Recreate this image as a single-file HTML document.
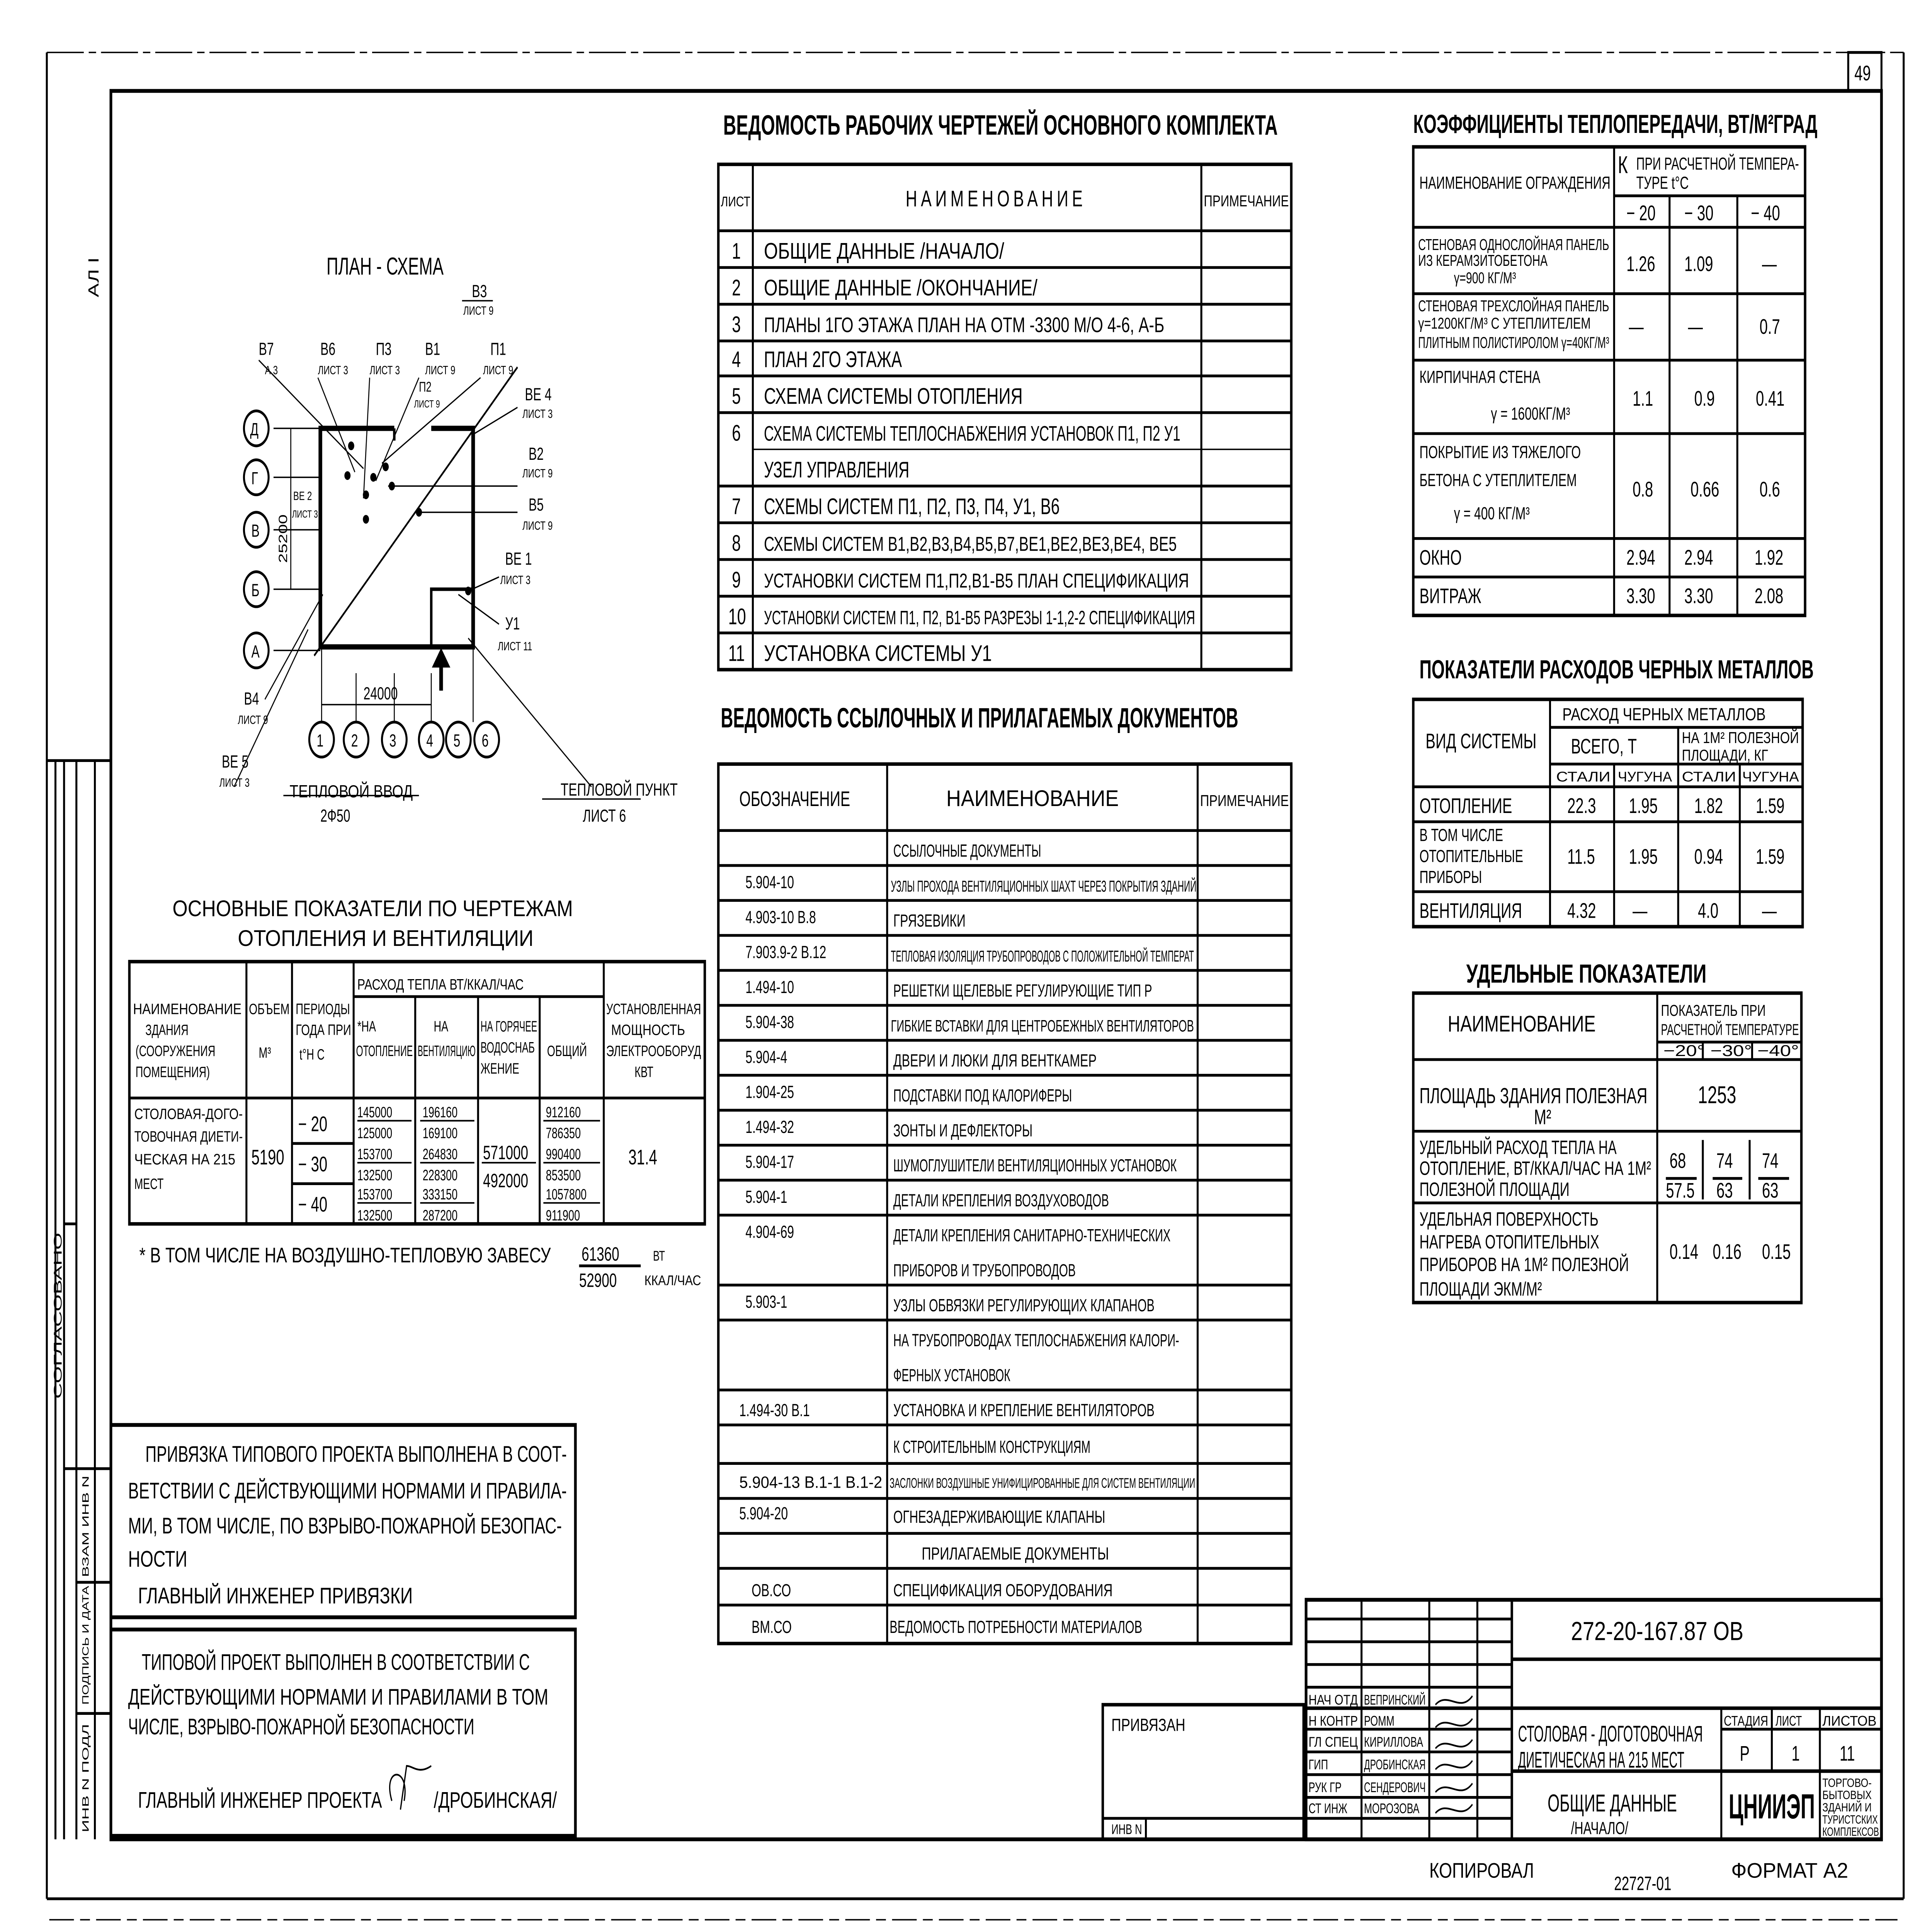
<!DOCTYPE html>
<html><head><meta charset="utf-8"><style>
html,body{margin:0;padding:0;background:#fff;overflow:hidden;width:100%;height:100%}
svg{display:block;position:fixed;left:0;top:0;width:100vw;height:100vh}
text{font-family:"Liberation Sans","DejaVu Sans Condensed",sans-serif;fill:#000}
</style></head><body>
<svg viewBox="0 0 1568 1105" preserveAspectRatio="none" xmlns="http://www.w3.org/2000/svg">
<rect width="1568" height="1105" fill="#fff"/>
<g stroke="#000" fill="none" stroke-width="1.6">
<line x1="38" y1="30" x2="38" y2="1086"/>
<line x1="38" y1="1086" x2="1545" y2="1086"/>
<line x1="1545" y1="30" x2="1545" y2="1086"/>
<line x1="38" y1="30" x2="1545" y2="30" stroke-width="0.8" stroke-dasharray="30 4 6 4"/>
<rect x="90" y="52" width="1437" height="1000" stroke-width="2.2"/>
<rect x="1500" y="30" width="27" height="22"/>
<line x1="38" y1="435" x2="90" y2="435"/>
<line x1="45" y1="435" x2="45" y2="1052"/>
<line x1="52" y1="435" x2="52" y2="1052"/>
<line x1="62" y1="435" x2="62" y2="1052"/>
<line x1="77" y1="435" x2="77" y2="1052"/>
<line x1="62" y1="840" x2="90" y2="840"/>
<line x1="62" y1="905" x2="90" y2="905"/>
<line x1="62" y1="980" x2="90" y2="980"/>
<line x1="52" y1="700" x2="62" y2="700"/>
<line x1="52" y1="840" x2="62" y2="840"/>

<rect x="583" y="94" width="465" height="289" stroke-width="2"/>
<line x1="611" y1="94" x2="611" y2="383"/>
<line x1="975" y1="94" x2="975" y2="383"/>
<line x1="583" y1="132" x2="1048" y2="132"/>
<line x1="583" y1="153" x2="1048" y2="153"/>
<line x1="583" y1="174" x2="1048" y2="174"/>
<line x1="583" y1="195" x2="1048" y2="195"/>
<line x1="583" y1="215" x2="1048" y2="215"/>
<line x1="583" y1="236" x2="1048" y2="236"/>
<line x1="611" y1="257" x2="1048" y2="257" stroke-width="0.8"/>
<line x1="583" y1="278" x2="1048" y2="278"/>
<line x1="583" y1="299" x2="1048" y2="299"/>
<line x1="583" y1="320" x2="1048" y2="320"/>
<line x1="583" y1="341" x2="1048" y2="341"/>
<line x1="583" y1="362" x2="1048" y2="362"/>

<rect x="583" y="437" width="465" height="503" stroke-width="2"/>
<line x1="720" y1="437" x2="720" y2="940"/>
<line x1="972" y1="437" x2="972" y2="940"/>
<line x1="583" y1="475" x2="1048" y2="475"/>
<line x1="583" y1="495" x2="1048" y2="495"/>
<line x1="583" y1="515" x2="1048" y2="515"/>
<line x1="583" y1="535" x2="1048" y2="535"/>
<line x1="583" y1="555" x2="1048" y2="555"/>
<line x1="583" y1="575" x2="1048" y2="575"/>
<line x1="583" y1="595" x2="1048" y2="595"/>
<line x1="583" y1="615" x2="1048" y2="615"/>
<line x1="583" y1="635" x2="1048" y2="635"/>
<line x1="583" y1="655" x2="1048" y2="655"/>
<line x1="583" y1="675" x2="1048" y2="675"/>
<line x1="583" y1="695" x2="1048" y2="695"/>
<line x1="583" y1="735" x2="1048" y2="735"/>
<line x1="583" y1="755" x2="1048" y2="755"/>
<line x1="583" y1="795" x2="1048" y2="795"/>
<line x1="583" y1="815" x2="1048" y2="815"/>
<line x1="583" y1="837" x2="1048" y2="837"/>
<line x1="583" y1="857" x2="1048" y2="857"/>
<line x1="583" y1="877" x2="1048" y2="877"/>
<line x1="583" y1="897" x2="1048" y2="897"/>
<line x1="583" y1="918" x2="1048" y2="918"/>

<rect x="1147" y="84" width="318" height="268" stroke-width="2"/>
<line x1="1310" y1="84" x2="1310" y2="352"/>
<line x1="1355" y1="112" x2="1355" y2="352"/>
<line x1="1410" y1="112" x2="1410" y2="352"/>
<line x1="1310" y1="112" x2="1465" y2="112"/>
<line x1="1147" y1="130" x2="1465" y2="130"/>
<line x1="1147" y1="168" x2="1465" y2="168"/>
<line x1="1147" y1="206" x2="1465" y2="206"/>
<line x1="1147" y1="248" x2="1465" y2="248"/>
<line x1="1147" y1="308" x2="1465" y2="308"/>
<line x1="1147" y1="330" x2="1465" y2="330"/>

<rect x="1147" y="400" width="316" height="130" stroke-width="2"/>
<line x1="1258" y1="400" x2="1258" y2="530"/>
<line x1="1258" y1="416" x2="1463" y2="416"/>
<line x1="1362" y1="416" x2="1362" y2="530"/>
<line x1="1258" y1="437" x2="1463" y2="437"/>
<line x1="1310" y1="437" x2="1310" y2="530"/>
<line x1="1412" y1="437" x2="1412" y2="530"/>
<line x1="1147" y1="450" x2="1463" y2="450"/>
<line x1="1147" y1="470" x2="1463" y2="470"/>
<line x1="1147" y1="510" x2="1463" y2="510"/>

<rect x="1147" y="568" width="315" height="177" stroke-width="2"/>
<line x1="1345" y1="568" x2="1345" y2="745"/>
<line x1="1345" y1="596" x2="1462" y2="596"/>
<line x1="1147" y1="606" x2="1462" y2="606"/>
<line x1="1147" y1="647" x2="1462" y2="647"/>
<line x1="1147" y1="688" x2="1462" y2="688"/>
<line x1="1382" y1="596" x2="1382" y2="606"/>
<line x1="1422" y1="596" x2="1422" y2="606"/>
<line x1="1352" y1="674" x2="1377" y2="674"/><line x1="1390" y1="674" x2="1414" y2="674"/><line x1="1427" y1="674" x2="1452" y2="674"/>
<line x1="1382" y1="652" x2="1382" y2="686"/><line x1="1420" y1="652" x2="1420" y2="686"/>

<rect x="105" y="550" width="467" height="150" stroke-width="2"/>
<line x1="200" y1="550" x2="200" y2="700"/>
<line x1="237" y1="550" x2="237" y2="700"/>
<line x1="287" y1="550" x2="287" y2="700"/>
<line x1="337" y1="570" x2="337" y2="700"/>
<line x1="388" y1="570" x2="388" y2="700"/>
<line x1="438" y1="570" x2="438" y2="700"/>
<line x1="490" y1="550" x2="490" y2="700"/>
<line x1="287" y1="570" x2="490" y2="570"/>
<line x1="105" y1="628" x2="572" y2="628"/>
<line x1="237" y1="654" x2="287" y2="654"/>
<line x1="237" y1="677" x2="287" y2="677"/>
<line x1="290" y1="641" x2="334" y2="641" stroke-width="0.9"/><line x1="341" y1="641" x2="385" y2="641" stroke-width="0.9"/><line x1="441" y1="641" x2="487" y2="641" stroke-width="0.9"/>
<line x1="290" y1="665" x2="334" y2="665" stroke-width="0.9"/><line x1="341" y1="665" x2="385" y2="665" stroke-width="0.9"/><line x1="441" y1="665" x2="487" y2="665" stroke-width="0.9"/><line x1="391" y1="665" x2="435" y2="665" stroke-width="0.9"/>
<line x1="290" y1="688" x2="334" y2="688" stroke-width="0.9"/><line x1="341" y1="688" x2="385" y2="688" stroke-width="0.9"/><line x1="441" y1="688" x2="487" y2="688" stroke-width="0.9"/>
<line x1="470" y1="724" x2="520" y2="724"/>

<rect x="90" y="815" width="377" height="110" stroke-width="2.2"/>
<rect x="90" y="932" width="377" height="118" stroke-width="2.2"/>

<rect x="895" y="975" width="163" height="77" stroke-width="2"/>
<line x1="895" y1="1040" x2="1058" y2="1040"/>
<line x1="930" y1="1040" x2="930" y2="1052"/>

<rect x="1060" y="915" width="467" height="137" stroke-width="2.2"/>
<line x1="1105" y1="915" x2="1105" y2="1052"/>
<line x1="1160" y1="915" x2="1160" y2="1052"/>
<line x1="1199" y1="915" x2="1199" y2="1052"/>
<line x1="1227" y1="915" x2="1227" y2="1052" stroke-width="2"/>
<line x1="1060" y1="926" x2="1227" y2="926"/>
<line x1="1060" y1="939" x2="1227" y2="939"/>
<line x1="1060" y1="952" x2="1227" y2="952"/>
<line x1="1060" y1="965" x2="1227" y2="965"/>
<line x1="1060" y1="977" x2="1527" y2="977" stroke-width="2"/>
<line x1="1060" y1="989" x2="1227" y2="989"/>
<line x1="1060" y1="1002" x2="1227" y2="1002"/>
<line x1="1060" y1="1015" x2="1227" y2="1015"/>
<line x1="1060" y1="1028" x2="1227" y2="1028"/>
<line x1="1060" y1="1040" x2="1227" y2="1040"/>
<line x1="1227" y1="949" x2="1527" y2="949" stroke-width="2"/>
<line x1="1227" y1="1013" x2="1527" y2="1013" stroke-width="2"/>
<line x1="1397" y1="977" x2="1397" y2="1052"/>
<line x1="1438" y1="977" x2="1438" y2="1013"/>
<line x1="1477" y1="977" x2="1477" y2="1052"/>
<line x1="1397" y1="989" x2="1527" y2="989"/>

<polyline points="320,245 260,245 260,370 384,370 384,245 350,245" stroke-width="3"/>
<line x1="320" y1="245" x2="320" y2="252" stroke-width="2"/>
<rect x="350" y="337" width="34" height="33" stroke-width="2"/>
<line x1="222" y1="245" x2="260" y2="245" stroke-width="0.8"/>
<line x1="222" y1="273" x2="260" y2="273" stroke-width="0.8"/>
<line x1="222" y1="303" x2="260" y2="303" stroke-width="0.8"/>
<line x1="222" y1="337" x2="260" y2="337" stroke-width="0.8"/>
<line x1="222" y1="372" x2="260" y2="372" stroke-width="0.8"/>
<circle cx="208" cy="245" r="10"/><circle cx="208" cy="273" r="10"/><circle cx="208" cy="303" r="10"/><circle cx="208" cy="337" r="10"/><circle cx="208" cy="372" r="10"/>
<circle cx="261" cy="423" r="10"/><circle cx="289" cy="423" r="10"/><circle cx="320" cy="423" r="10"/><circle cx="350" cy="423" r="10"/><circle cx="372" cy="423" r="10"/><circle cx="395" cy="423" r="10"/>
<line x1="261" y1="370" x2="261" y2="413" stroke-width="0.8"/>
<line x1="289" y1="385" x2="289" y2="413" stroke-width="0.8"/>
<line x1="320" y1="385" x2="320" y2="413" stroke-width="0.8"/>
<line x1="350" y1="385" x2="350" y2="413" stroke-width="0.8"/>
<line x1="384" y1="370" x2="384" y2="413" stroke-width="0.8"/>
<line x1="261" y1="403" x2="350" y2="403" stroke-width="0.8"/>
<line x1="236" y1="245" x2="236" y2="337" stroke-width="0.8"/>
<line x1="358" y1="395" x2="358" y2="380" stroke-width="3"/>
<polygon points="352,381 364,381 358,372" fill="#000"/>
<line x1="255" y1="375" x2="420" y2="210" stroke-width="1.2"/>
<line x1="215" y1="400" x2="262" y2="340" stroke-width="0.8"/>
<line x1="210" y1="206" x2="295" y2="268" stroke-width="0.8"/>
<line x1="258" y1="216" x2="288" y2="270" stroke-width="0.8"/>
<line x1="300" y1="216" x2="295" y2="285" stroke-width="0.8"/>
<line x1="340" y1="216" x2="305" y2="275" stroke-width="0.8"/>
<line x1="390" y1="216" x2="310" y2="265" stroke-width="0.8"/>
<line x1="420" y1="233" x2="385" y2="248" stroke-width="0.8"/>
<line x1="420" y1="278" x2="315" y2="278" stroke-width="0.8"/>
<line x1="420" y1="293" x2="340" y2="293" stroke-width="0.8"/>
<line x1="405" y1="330" x2="380" y2="338" stroke-width="0.8"/>
<line x1="405" y1="357" x2="372" y2="340" stroke-width="0.8"/>
<line x1="190" y1="450" x2="250" y2="360" stroke-width="0.8"/>
<line x1="480" y1="450" x2="380" y2="365" stroke-width="0.8"/>
<line x1="230" y1="455" x2="340" y2="455" stroke-width="0.8"/>
<line x1="440" y1="457" x2="520" y2="457" stroke-width="0.8"/>
<line x1="375" y1="172" x2="400" y2="172" stroke-width="0.8"/>
</g>
<g fill="#000">
<circle cx="285" cy="255" r="2.5"/><circle cx="282" cy="272" r="2.5"/><circle cx="297" cy="283" r="2.5"/><circle cx="303" cy="273" r="2.5"/><circle cx="313" cy="267" r="2.5"/><circle cx="318" cy="278" r="2.5"/><circle cx="340" cy="293" r="2.5"/><circle cx="297" cy="297" r="2.5"/><circle cx="380" cy="338" r="2.5"/>
</g>

<g font-size="13">
<text x="587" y="77" font-size="16" font-weight="bold" textLength="450" lengthAdjust="spacingAndGlyphs">ВЕДОМОСТЬ РАБОЧИХ ЧЕРТЕЖЕЙ  ОСНОВНОГО КОМПЛЕКТА</text>
<text x="585" y="118" font-size="8" textLength="24" lengthAdjust="spacingAndGlyphs">ЛИСТ</text>
<text x="735" y="118" letter-spacing="3">НАИМЕНОВАНИЕ</text>
<text x="977" y="118" font-size="9" textLength="69" lengthAdjust="spacingAndGlyphs">ПРИМЕЧАНИЕ</text>
<text x="594" y="148">1</text><text x="620" y="148" textLength="195" lengthAdjust="spacingAndGlyphs">ОБЩИЕ ДАННЫЕ  /НАЧАЛО/</text>
<text x="594" y="169">2</text><text x="620" y="169" textLength="222" lengthAdjust="spacingAndGlyphs">ОБЩИЕ ДАННЫЕ  /ОКОНЧАНИЕ/</text>
<text x="594" y="190">3</text><text x="620" y="190" font-size="12" textLength="325" lengthAdjust="spacingAndGlyphs">ПЛАНЫ 1ГО ЭТАЖА ПЛАН НА ОТМ -3300 М/О 4-6, А-Б</text>
<text x="594" y="210">4</text><text x="620" y="210" textLength="112" lengthAdjust="spacingAndGlyphs">ПЛАН 2ГО ЭТАЖА</text>
<text x="594" y="231">5</text><text x="620" y="231" textLength="210" lengthAdjust="spacingAndGlyphs">СХЕМА СИСТЕМЫ ОТОПЛЕНИЯ</text>
<text x="594" y="252">6</text><text x="620" y="252" font-size="12" textLength="338" lengthAdjust="spacingAndGlyphs">СХЕМА СИСТЕМЫ ТЕПЛОСНАБЖЕНИЯ УСТАНОВОК П1, П2 У1</text>
<text x="620" y="273" textLength="118" lengthAdjust="spacingAndGlyphs">УЗЕЛ УПРАВЛЕНИЯ</text>
<text x="594" y="294">7</text><text x="620" y="294" textLength="240" lengthAdjust="spacingAndGlyphs">СХЕМЫ СИСТЕМ П1, П2, П3, П4, У1, В6</text>
<text x="594" y="315">8</text><text x="620" y="315" font-size="11.5" textLength="335" lengthAdjust="spacingAndGlyphs">СХЕМЫ СИСТЕМ В1,В2,В3,В4,В5,В7,ВЕ1,ВЕ2,ВЕ3,ВЕ4, ВЕ5</text>
<text x="594" y="336">9</text><text x="620" y="336" font-size="11.5" textLength="345" lengthAdjust="spacingAndGlyphs">УСТАНОВКИ СИСТЕМ П1,П2,В1-В5 ПЛАН СПЕЦИФИКАЦИЯ</text>
<text x="591" y="357">10</text><text x="620" y="357" font-size="11" textLength="350" lengthAdjust="spacingAndGlyphs">УСТАНОВКИ СИСТЕМ П1, П2, В1-В5 РАЗРЕЗЫ 1-1,2-2 СПЕЦИФИКАЦИЯ</text>
<text x="591" y="378">11</text><text x="620" y="378" textLength="185" lengthAdjust="spacingAndGlyphs">УСТАНОВКА  СИСТЕМЫ  У1</text>

<text x="585" y="416" font-size="16" font-weight="bold" textLength="420" lengthAdjust="spacingAndGlyphs">ВЕДОМОСТЬ ССЫЛОЧНЫХ И ПРИЛАГАЕМЫХ ДОКУМЕНТОВ</text>
<text x="600" y="461" font-size="12" textLength="90" lengthAdjust="spacingAndGlyphs">ОБОЗНАЧЕНИЕ</text>
<text x="768" y="461" textLength="140" lengthAdjust="spacingAndGlyphs">НАИМЕНОВАНИЕ</text>
<text x="974" y="461" font-size="9" textLength="72" lengthAdjust="spacingAndGlyphs">ПРИМЕЧАНИЕ</text>
<g font-size="10">
<text x="725" y="490" textLength="120" lengthAdjust="spacingAndGlyphs">ССЫЛОЧНЫЕ ДОКУМЕНТЫ</text>
<text x="605" y="508">5.904-10</text><text x="723" y="510" font-size="9" textLength="248" lengthAdjust="spacingAndGlyphs">УЗЛЫ ПРОХОДА ВЕНТИЛЯЦИОННЫХ ШАХТ ЧЕРЕЗ ПОКРЫТИЯ ЗДАНИЙ</text>
<text x="605" y="528">4.903-10 В.8</text><text x="725" y="530">ГРЯЗЕВИКИ</text>
<text x="605" y="548">7.903.9-2   В.12</text><text x="723" y="550" font-size="9" textLength="246" lengthAdjust="spacingAndGlyphs">ТЕПЛОВАЯ ИЗОЛЯЦИЯ ТРУБОПРОВОДОВ С ПОЛОЖИТЕЛЬНОЙ ТЕМПЕРАТ</text>
<text x="605" y="568">1.494-10</text><text x="725" y="570" textLength="210" lengthAdjust="spacingAndGlyphs">РЕШЕТКИ ЩЕЛЕВЫЕ РЕГУЛИРУЮЩИЕ ТИП Р</text>
<text x="605" y="588">5.904-38</text><text x="723" y="590" font-size="9.5" textLength="246" lengthAdjust="spacingAndGlyphs">ГИБКИЕ ВСТАВКИ ДЛЯ ЦЕНТРОБЕЖНЫХ ВЕНТИЛЯТОРОВ</text>
<text x="605" y="608">5.904-4</text><text x="725" y="610" textLength="165" lengthAdjust="spacingAndGlyphs">ДВЕРИ И ЛЮКИ ДЛЯ ВЕНТКАМЕР</text>
<text x="605" y="628">1.904-25</text><text x="725" y="630" textLength="145" lengthAdjust="spacingAndGlyphs">ПОДСТАВКИ ПОД КАЛОРИФЕРЫ</text>
<text x="605" y="648">1.494-32</text><text x="725" y="650" textLength="113" lengthAdjust="spacingAndGlyphs">ЗОНТЫ И ДЕФЛЕКТОРЫ</text>
<text x="605" y="668">5.904-17</text><text x="725" y="670" textLength="230" lengthAdjust="spacingAndGlyphs">ШУМОГЛУШИТЕЛИ ВЕНТИЛЯЦИОННЫХ УСТАНОВОК</text>
<text x="605" y="688">5.904-1</text><text x="725" y="690" textLength="175" lengthAdjust="spacingAndGlyphs">ДЕТАЛИ КРЕПЛЕНИЯ ВОЗДУХОВОДОВ</text>
<text x="605" y="708">4.904-69</text><text x="725" y="710" textLength="225" lengthAdjust="spacingAndGlyphs">ДЕТАЛИ КРЕПЛЕНИЯ САНИТАРНО-ТЕХНИЧЕСКИХ</text>
<text x="725" y="730" textLength="148" lengthAdjust="spacingAndGlyphs">ПРИБОРОВ И ТРУБОПРОВОДОВ</text>
<text x="605" y="748">5.903-1</text><text x="725" y="750" textLength="212" lengthAdjust="spacingAndGlyphs">УЗЛЫ ОБВЯЗКИ РЕГУЛИРУЮЩИХ КЛАПАНОВ</text>
<text x="725" y="770" textLength="232" lengthAdjust="spacingAndGlyphs">НА ТРУБОПРОВОДАХ ТЕПЛОСНАБЖЕНИЯ КАЛОРИ-</text>
<text x="725" y="790" textLength="95" lengthAdjust="spacingAndGlyphs">ФЕРНЫХ УСТАНОВОК</text>
<text x="600" y="810">1.494-30  В.1</text><text x="725" y="810" textLength="212" lengthAdjust="spacingAndGlyphs">УСТАНОВКА И КРЕПЛЕНИЕ ВЕНТИЛЯТОРОВ</text>
<text x="725" y="831" textLength="160" lengthAdjust="spacingAndGlyphs">К СТРОИТЕЛЬНЫМ КОНСТРУКЦИЯМ</text>
<text x="600" y="851" font-size="9.5" textLength="116" lengthAdjust="spacingAndGlyphs">5.904-13 В.1-1 В.1-2</text><text x="722" y="851" font-size="8" textLength="248" lengthAdjust="spacingAndGlyphs">ЗАСЛОНКИ ВОЗДУШНЫЕ УНИФИЦИРОВАННЫЕ ДЛЯ СИСТЕМ ВЕНТИЛЯЦИИ</text>
<text x="600" y="869">5.904-20</text><text x="725" y="871" textLength="172" lengthAdjust="spacingAndGlyphs">ОГНЕЗАДЕРЖИВАЮЩИЕ КЛАПАНЫ</text>
<text x="748" y="892" textLength="152" lengthAdjust="spacingAndGlyphs">ПРИЛАГАЕМЫЕ ДОКУМЕНТЫ</text>
<text x="610" y="913">ОВ.СО</text><text x="725" y="913" textLength="178" lengthAdjust="spacingAndGlyphs">СПЕЦИФИКАЦИЯ ОБОРУДОВАНИЯ</text>
<text x="610" y="934">ВМ.СО</text><text x="722" y="934" textLength="205" lengthAdjust="spacingAndGlyphs">ВЕДОМОСТЬ ПОТРЕБНОСТИ  МАТЕРИАЛОВ</text>
</g>

<text x="1147" y="76" font-size="15" font-weight="bold" textLength="328" lengthAdjust="spacingAndGlyphs">КОЭФФИЦИЕНТЫ ТЕПЛОПЕРЕДАЧИ, ВТ/М²ГРАД</text>
<g font-size="10">
<text x="1152" y="108" textLength="155" lengthAdjust="spacingAndGlyphs">НАИМЕНОВАНИЕ ОГРАЖДЕНИЯ</text>
<text x="1313" y="99" font-size="14">К</text><text x="1328" y="97" textLength="132" lengthAdjust="spacingAndGlyphs">ПРИ РАСЧЕТНОЙ ТЕМПЕРА-</text><text x="1328" y="108">ТУРЕ t°C</text>
<text x="1320" y="126" font-size="12">− 20</text><text x="1367" y="126" font-size="12">− 30</text><text x="1421" y="126" font-size="12">− 40</text>
<text x="1151" y="143" font-size="9" textLength="155" lengthAdjust="spacingAndGlyphs">СТЕНОВАЯ ОДНОСЛОЙНАЯ ПАНЕЛЬ</text><text x="1151" y="152" font-size="9">ИЗ КЕРАМЗИТОБЕТОНА</text><text x="1180" y="162" font-size="9">γ=900 КГ/М³</text>
<text x="1320" y="155" font-size="12">1.26</text><text x="1367" y="155" font-size="12">1.09</text><text x="1430" y="155" font-size="12">—</text>
<text x="1151" y="178" font-size="9" textLength="155" lengthAdjust="spacingAndGlyphs">СТЕНОВАЯ ТРЕХСЛОЙНАЯ ПАНЕЛЬ</text><text x="1151" y="188" font-size="9" textLength="140" lengthAdjust="spacingAndGlyphs">γ=1200КГ/М³ С УТЕПЛИТЕЛЕМ</text><text x="1151" y="199" font-size="9" textLength="155" lengthAdjust="spacingAndGlyphs">ПЛИТНЫМ ПОЛИСТИРОЛОМ γ=40КГ/М³</text>
<text x="1322" y="191" font-size="12">—</text><text x="1370" y="191" font-size="12">—</text><text x="1428" y="191" font-size="12">0.7</text>
<text x="1152" y="219">КИРПИЧНАЯ СТЕНА</text><text x="1210" y="240">γ = 1600КГ/М³</text>
<text x="1325" y="232" font-size="12">1.1</text><text x="1375" y="232" font-size="12">0.9</text><text x="1425" y="232" font-size="12">0.41</text>
<text x="1152" y="262">ПОКРЫТИЕ ИЗ ТЯЖЕЛОГО</text><text x="1152" y="278">БЕТОНА С УТЕПЛИТЕЛЕМ</text><text x="1180" y="297">γ = 400 КГ/М³</text>
<text x="1325" y="284" font-size="12">0.8</text><text x="1372" y="284" font-size="12">0.66</text><text x="1428" y="284" font-size="12">0.6</text>
<text x="1152" y="323" font-size="12">ОКНО</text>
<text x="1320" y="323" font-size="12">2.94</text><text x="1367" y="323" font-size="12">2.94</text><text x="1424" y="323" font-size="12">1.92</text>
<text x="1152" y="345" font-size="12">ВИТРАЖ</text>
<text x="1320" y="345" font-size="12">3.30</text><text x="1367" y="345" font-size="12">3.30</text><text x="1424" y="345" font-size="12">2.08</text>
</g>

<text x="1152" y="388" font-size="15" font-weight="bold" textLength="320" lengthAdjust="spacingAndGlyphs">ПОКАЗАТЕЛИ РАСХОДОВ ЧЕРНЫХ МЕТАЛЛОВ</text>
<g font-size="10">
<text x="1157" y="428" font-size="12" textLength="90" lengthAdjust="spacingAndGlyphs">ВИД СИСТЕМЫ</text>
<text x="1268" y="412" textLength="165" lengthAdjust="spacingAndGlyphs">РАСХОД ЧЕРНЫХ МЕТАЛЛОВ</text>
<text x="1275" y="431" font-size="12">ВСЕГО, Т</text>
<text x="1365" y="425" font-size="9" textLength="95" lengthAdjust="spacingAndGlyphs">НА 1М² ПОЛЕЗНОЙ</text><text x="1365" y="435" font-size="9" textLength="70" lengthAdjust="spacingAndGlyphs">ПЛОЩАДИ, КГ</text>
<text x="1263" y="447" font-size="8" textLength="44" lengthAdjust="spacingAndGlyphs">СТАЛИ</text><text x="1313" y="447" font-size="8" textLength="44" lengthAdjust="spacingAndGlyphs">ЧУГУНА</text><text x="1365" y="447" font-size="8" textLength="44" lengthAdjust="spacingAndGlyphs">СТАЛИ</text><text x="1414" y="447" font-size="8" textLength="46" lengthAdjust="spacingAndGlyphs">ЧУГУНА</text>
<text x="1152" y="465" font-size="12">ОТОПЛЕНИЕ</text>
<text x="1272" y="465" font-size="12">22.3</text><text x="1322" y="465" font-size="12">1.95</text><text x="1375" y="465" font-size="12">1.82</text><text x="1425" y="465" font-size="12">1.59</text>
<text x="1152" y="481">В ТОМ ЧИСЛЕ</text><text x="1152" y="493">ОТОПИТЕЛЬНЫЕ</text><text x="1152" y="505">ПРИБОРЫ</text>
<text x="1272" y="494" font-size="12">11.5</text><text x="1322" y="494" font-size="12">1.95</text><text x="1375" y="494" font-size="12">0.94</text><text x="1425" y="494" font-size="12">1.59</text>
<text x="1152" y="525" font-size="12">ВЕНТИЛЯЦИЯ</text>
<text x="1272" y="525" font-size="12">4.32</text><text x="1325" y="525" font-size="12">—</text><text x="1378" y="525" font-size="12">4.0</text><text x="1430" y="525" font-size="12">—</text>
</g>

<text x="1190" y="562" font-size="15" font-weight="bold" textLength="195" lengthAdjust="spacingAndGlyphs">УДЕЛЬНЫЕ ПОКАЗАТЕЛИ</text>
<g font-size="11">
<text x="1175" y="590" font-size="13" textLength="120" lengthAdjust="spacingAndGlyphs">НАИМЕНОВАНИЕ</text>
<text x="1348" y="581" font-size="9" textLength="85" lengthAdjust="spacingAndGlyphs">ПОКАЗАТЕЛЬ ПРИ</text><text x="1348" y="592" font-size="9" textLength="112" lengthAdjust="spacingAndGlyphs">РАСЧЕТНОЙ ТЕМПЕРАТУРЕ</text>
<text x="1350" y="604" font-size="9" textLength="110" lengthAdjust="spacingAndGlyphs">−20°   −30°   −40°</text>
<text x="1152" y="631" font-size="12.5" textLength="185" lengthAdjust="spacingAndGlyphs">ПЛОЩАДЬ ЗДАНИЯ ПОЛЕЗНАЯ</text><text x="1245" y="643" font-size="12">М²</text>
<text x="1378" y="631" font-size="14">1253</text>
<text x="1152" y="660" textLength="160" lengthAdjust="spacingAndGlyphs">УДЕЛЬНЫЙ РАСХОД ТЕПЛА НА</text><text x="1152" y="672" textLength="188" lengthAdjust="spacingAndGlyphs">ОТОПЛЕНИЕ, ВТ/ККАЛ/ЧАС НА 1М²</text><text x="1152" y="684">ПОЛЕЗНОЙ ПЛОЩАДИ</text>
<text x="1355" y="668" font-size="12">68</text><text x="1393" y="668" font-size="12">74</text><text x="1430" y="668" font-size="12">74</text>
<text x="1352" y="685" font-size="12">57.5</text><text x="1393" y="685" font-size="12">63</text><text x="1430" y="685" font-size="12">63</text>
<text x="1152" y="701">УДЕЛЬНАЯ ПОВЕРХНОСТЬ</text><text x="1152" y="714">НАГРЕВА ОТОПИТЕЛЬНЫХ</text><text x="1152" y="727" textLength="170" lengthAdjust="spacingAndGlyphs">ПРИБОРОВ НА 1М² ПОЛЕЗНОЙ</text><text x="1152" y="741">ПЛОЩАДИ  ЭКМ/М²</text>
<text x="1355" y="720" font-size="12">0.14</text><text x="1390" y="720" font-size="12">0.16</text><text x="1430" y="720" font-size="12">0.15</text>
</g>

<text x="265" y="157" font-size="14" textLength="95" lengthAdjust="spacingAndGlyphs">ПЛАН - СХЕМА</text>
<g font-size="10">
<text x="383" y="170">В3</text><text x="376" y="180" font-size="7">ЛИСТ 9</text>
<text x="210" y="203">В7</text><text x="215" y="214" font-size="7">А 3</text>
<text x="260" y="203">В6</text><text x="258" y="214" font-size="7">ЛИСТ 3</text>
<text x="305" y="203">П3</text><text x="300" y="214" font-size="7">ЛИСТ 3</text>
<text x="345" y="203">В1</text><text x="345" y="214" font-size="7">ЛИСТ 9</text>
<text x="398" y="203">П1</text><text x="392" y="214" font-size="7">ЛИСТ 9</text>
<text x="340" y="224" font-size="8">П2</text><text x="336" y="233" font-size="6">ЛИСТ 9</text>
<text x="426" y="229">ВЕ 4</text><text x="424" y="239" font-size="7">ЛИСТ 3</text>
<text x="429" y="263">В2</text><text x="424" y="273" font-size="7">ЛИСТ 9</text>
<text x="429" y="292">В5</text><text x="424" y="303" font-size="7">ЛИСТ 9</text>
<text x="410" y="323">ВЕ 1</text><text x="406" y="334" font-size="7">ЛИСТ 3</text>
<text x="410" y="360">У1</text><text x="404" y="372" font-size="7">ЛИСТ 11</text>
<text x="238" y="286" font-size="7">ВЕ 2</text><text x="237" y="296" font-size="6">ЛИСТ 3</text>
<text x="198" y="403">В4</text><text x="193" y="414" font-size="7">ЛИСТ 9</text>
<text x="180" y="439">ВЕ 5</text><text x="178" y="450" font-size="7">ЛИСТ 3</text>
<text x="203" y="249">Д</text><text x="204" y="277">Г</text><text x="204" y="307">В</text><text x="204" y="341">Б</text><text x="204" y="376">А</text>
<text x="257" y="427">1</text><text x="285" y="427">2</text><text x="316" y="427">3</text><text x="346" y="427">4</text><text x="368" y="427">5</text><text x="391" y="427">6</text>
<text x="295" y="400">24000</text>
<text transform="translate(233,322) rotate(-90)">25200</text>
<text x="235" y="456" textLength="100" lengthAdjust="spacingAndGlyphs">ТЕПЛОВОЙ ВВОД</text><text x="260" y="470">2Ф50</text>
<text x="455" y="455" textLength="95" lengthAdjust="spacingAndGlyphs">ТЕПЛОВОЙ ПУНКТ</text><text x="473" y="470">ЛИСТ 6</text>
<text transform="translate(80,170) rotate(-90)" font-size="12">АЛ I</text>
</g>

<text x="140" y="524" font-size="13" textLength="325" lengthAdjust="spacingAndGlyphs">ОСНОВНЫЕ  ПОКАЗАТЕЛИ  ПО  ЧЕРТЕЖАМ</text>
<text x="193" y="541" font-size="13" textLength="240" lengthAdjust="spacingAndGlyphs">ОТОПЛЕНИЯ  И  ВЕНТИЛЯЦИИ</text>
<g font-size="8.5">
<text x="108" y="580" textLength="88" lengthAdjust="spacingAndGlyphs">НАИМЕНОВАНИЕ</text><text x="118" y="592">ЗДАНИЯ</text><text x="110" y="604">(СООРУЖЕНИЯ</text><text x="110" y="616">ПОМЕЩЕНИЯ)</text>
<text x="202" y="580" textLength="33" lengthAdjust="spacingAndGlyphs">ОБЪЕМ</text><text x="210" y="605">М³</text>
<text x="240" y="580" textLength="44" lengthAdjust="spacingAndGlyphs">ПЕРИОДЫ</text><text x="240" y="592" textLength="45" lengthAdjust="spacingAndGlyphs">ГОДА ПРИ</text><text x="243" y="606">t°Н C</text>
<text x="290" y="566" textLength="135" lengthAdjust="spacingAndGlyphs">РАСХОД ТЕПЛА  ВТ/ККАЛ/ЧАС</text>
<text x="290" y="590">*НА</text><text x="289" y="604" textLength="46" lengthAdjust="spacingAndGlyphs">ОТОПЛЕНИЕ</text>
<text x="352" y="590">НА</text><text x="339" y="604" textLength="47" lengthAdjust="spacingAndGlyphs">ВЕНТИЛЯЦИЮ</text>
<text x="390" y="590" textLength="46" lengthAdjust="spacingAndGlyphs">НА ГОРЯЧЕЕ</text><text x="390" y="602" textLength="44" lengthAdjust="spacingAndGlyphs">ВОДОСНАБ</text><text x="390" y="614">ЖЕНИЕ</text>
<text x="444" y="604">ОБЩИЙ</text>
<text x="492" y="580" textLength="77" lengthAdjust="spacingAndGlyphs">УСТАНОВЛЕННАЯ</text><text x="496" y="592" textLength="60" lengthAdjust="spacingAndGlyphs">МОЩНОСТЬ</text><text x="492" y="604" textLength="77" lengthAdjust="spacingAndGlyphs">ЭЛЕКТРООБОРУД</text><text x="515" y="616">КВТ</text>
<text x="109" y="640" textLength="88" lengthAdjust="spacingAndGlyphs">СТОЛОВАЯ-ДОГО-</text><text x="109" y="653" textLength="88" lengthAdjust="spacingAndGlyphs">ТОВОЧНАЯ ДИЕТИ-</text><text x="109" y="666" textLength="82" lengthAdjust="spacingAndGlyphs">ЧЕСКАЯ НА 215</text><text x="109" y="680">МЕСТ</text>
<text x="204" y="666" font-size="12">5190</text>
<text x="242" y="647" font-size="12">− 20</text><text x="242" y="670" font-size="12">− 30</text><text x="242" y="693" font-size="12">− 40</text>
<text x="290" y="639">145000</text><text x="290" y="651">125000</text><text x="290" y="663">153700</text><text x="290" y="675">132500</text><text x="290" y="686">153700</text><text x="290" y="698">132500</text>
<text x="343" y="639">196160</text><text x="343" y="651">169100</text><text x="343" y="663">264830</text><text x="343" y="675">228300</text><text x="343" y="686">333150</text><text x="343" y="698">287200</text>
<text x="392" y="663" font-size="11">571000</text><text x="392" y="679" font-size="11">492000</text>
<text x="443" y="639">912160</text><text x="443" y="651">786350</text><text x="443" y="663">990400</text><text x="443" y="675">853500</text><text x="443" y="686">1057800</text><text x="443" y="698">911900</text>
<text x="510" y="666" font-size="12">31.4</text>
</g>
<text x="113" y="722" font-size="12" textLength="334" lengthAdjust="spacingAndGlyphs">* В ТОМ ЧИСЛЕ НА ВОЗДУШНО-ТЕПЛОВУЮ ЗАВЕСУ</text>
<text x="472" y="721" font-size="11">61360</text><text x="470" y="736" font-size="11">52900</text>
<text x="530" y="721" font-size="8">ВТ</text><text x="523" y="735" font-size="8" textLength="46" lengthAdjust="spacingAndGlyphs">ККАЛ/ЧАС</text>

<g font-size="13">
<text x="118" y="836" textLength="342" lengthAdjust="spacingAndGlyphs">ПРИВЯЗКА ТИПОВОГО ПРОЕКТА ВЫПОЛНЕНА В СООТ-</text>
<text x="104" y="857" textLength="356" lengthAdjust="spacingAndGlyphs">ВЕТСТВИИ С ДЕЙСТВУЮЩИМИ НОРМАМИ И ПРАВИЛА-</text>
<text x="104" y="877" textLength="352" lengthAdjust="spacingAndGlyphs">МИ, В ТОМ ЧИСЛЕ, ПО ВЗРЫВО-ПОЖАРНОЙ БЕЗОПАС-</text>
<text x="104" y="896" textLength="48" lengthAdjust="spacingAndGlyphs">НОСТИ</text>
<text x="112" y="917" textLength="223" lengthAdjust="spacingAndGlyphs">ГЛАВНЫЙ ИНЖЕНЕР ПРИВЯЗКИ</text>
<text x="115" y="955" textLength="315" lengthAdjust="spacingAndGlyphs">ТИПОВОЙ ПРОЕКТ ВЫПОЛНЕН В СООТВЕТСТВИИ С</text>
<text x="104" y="975" textLength="341" lengthAdjust="spacingAndGlyphs">ДЕЙСТВУЮЩИМИ НОРМАМИ И ПРАВИЛАМИ В ТОМ</text>
<text x="104" y="992" textLength="281" lengthAdjust="spacingAndGlyphs">ЧИСЛЕ, ВЗРЫВО-ПОЖАРНОЙ БЕЗОПАСНОСТИ</text>
<text x="112" y="1034" textLength="198" lengthAdjust="spacingAndGlyphs">ГЛАВНЫЙ ИНЖЕНЕР ПРОЕКТА</text>
<text x="352" y="1034" textLength="100" lengthAdjust="spacingAndGlyphs">/ДРОБИНСКАЯ/</text>
</g>
<path d="M318,1030 c-8,-20 15,-20 10,0 M325,1035 l5,-25 c5,0 10,5 20,0" stroke="#000" fill="none" stroke-width="1"/>

<g font-size="7.5">
<text transform="translate(50,800) rotate(-90)" font-size="9" textLength="95" lengthAdjust="spacingAndGlyphs">СОГЛАСОВАНО</text>
<text transform="translate(72,1048) rotate(-90)" textLength="62" lengthAdjust="spacingAndGlyphs">ИНВ N ПОДЛ</text>
<text transform="translate(72,975) rotate(-90)" textLength="68" lengthAdjust="spacingAndGlyphs">ПОДПИСЬ И ДАТА</text>
<text transform="translate(72,902) rotate(-90)" textLength="58" lengthAdjust="spacingAndGlyphs">ВЗАМ ИНВ N</text>
</g>

<text x="902" y="990" font-size="10" textLength="60" lengthAdjust="spacingAndGlyphs">ПРИВЯЗАН</text>
<text x="902" y="1049" font-size="8">ИНВ N</text>
<g font-size="8">
<text x="1062" y="975" textLength="40" lengthAdjust="spacingAndGlyphs">НАЧ ОТД</text><text x="1107" y="975" textLength="50" lengthAdjust="spacingAndGlyphs">ВЕПРИНСКИЙ</text>
<text x="1062" y="987" textLength="40" lengthAdjust="spacingAndGlyphs">Н КОНТР</text><text x="1107" y="987">РОММ</text>
<text x="1062" y="999" textLength="40" lengthAdjust="spacingAndGlyphs">ГЛ СПЕЦ</text><text x="1107" y="999" textLength="48" lengthAdjust="spacingAndGlyphs">КИРИЛЛОВА</text>
<text x="1062" y="1012">ГИП</text><text x="1107" y="1012" textLength="50" lengthAdjust="spacingAndGlyphs">ДРОБИНСКАЯ</text>
<text x="1062" y="1025">РУК ГР</text><text x="1107" y="1025" textLength="50" lengthAdjust="spacingAndGlyphs">СЕНДЕРОВИЧ</text>
<text x="1062" y="1037">СТ ИНЖ</text><text x="1107" y="1037" textLength="45" lengthAdjust="spacingAndGlyphs">МОРОЗОВА</text>
</g>
<path d="M1165,975 c10,-8 20,5 30,-5 M1165,988 c10,-8 20,5 30,-5 M1165,1000 c10,-8 20,5 30,-5 M1165,1012 c10,-8 20,5 30,-5 M1165,1025 c10,-8 20,5 30,-5 M1165,1037 c10,-8 20,5 30,-5" stroke="#000" fill="none" stroke-width="1"/>
<text x="1275" y="938" font-size="15" textLength="140" lengthAdjust="spacingAndGlyphs">272-20-167.87   ОВ</text>
<text x="1232" y="996" font-size="13" textLength="150" lengthAdjust="spacingAndGlyphs">СТОЛОВАЯ - ДОГОТОВОЧНАЯ</text>
<text x="1232" y="1011" font-size="13" textLength="135" lengthAdjust="spacingAndGlyphs">ДИЕТИЧЕСКАЯ НА 215 МЕСТ</text>
<text x="1399" y="987" font-size="8" textLength="36" lengthAdjust="spacingAndGlyphs">СТАДИЯ</text><text x="1441" y="987" font-size="8">ЛИСТ</text><text x="1479" y="987" font-size="8" textLength="44" lengthAdjust="spacingAndGlyphs">ЛИСТОВ</text>
<text x="1412" y="1007" font-size="12">Р</text><text x="1454" y="1007" font-size="12">1</text><text x="1493" y="1007" font-size="12">11</text>
<text x="1256" y="1036" font-size="14" textLength="105" lengthAdjust="spacingAndGlyphs">ОБЩИЕ ДАННЫЕ</text>
<text x="1275" y="1049" font-size="10">/НАЧАЛО/</text>
<text x="1403" y="1040" font-size="20" font-weight="bold" textLength="70" lengthAdjust="spacingAndGlyphs">ЦНИИЭП</text>
<g font-size="7"><text x="1479" y="1022" textLength="40" lengthAdjust="spacingAndGlyphs">ТОРГОВО-</text><text x="1479" y="1029" textLength="40" lengthAdjust="spacingAndGlyphs">БЫТОВЫХ</text><text x="1479" y="1036" textLength="40" lengthAdjust="spacingAndGlyphs">ЗДАНИЙ И</text><text x="1479" y="1043" textLength="45" lengthAdjust="spacingAndGlyphs">ТУРИСТСКИХ</text><text x="1479" y="1050" textLength="46" lengthAdjust="spacingAndGlyphs">КОМПЛЕКСОВ</text></g>
<text x="1160" y="1074" font-size="12" textLength="85" lengthAdjust="spacingAndGlyphs">КОПИРОВАЛ</text>
<text x="1310" y="1081" font-size="11">22727-01</text>
<text x="1405" y="1074" font-size="12" textLength="95" lengthAdjust="spacingAndGlyphs">ФОРМАТ А2</text>
<text x="1505" y="46" font-size="12">49</text>
</g>
<line x1="40" y1="1098" x2="1540" y2="1098" stroke="#000" stroke-width="0.8" stroke-dasharray="20 5 8 5"/>
</svg>
</body></html>
